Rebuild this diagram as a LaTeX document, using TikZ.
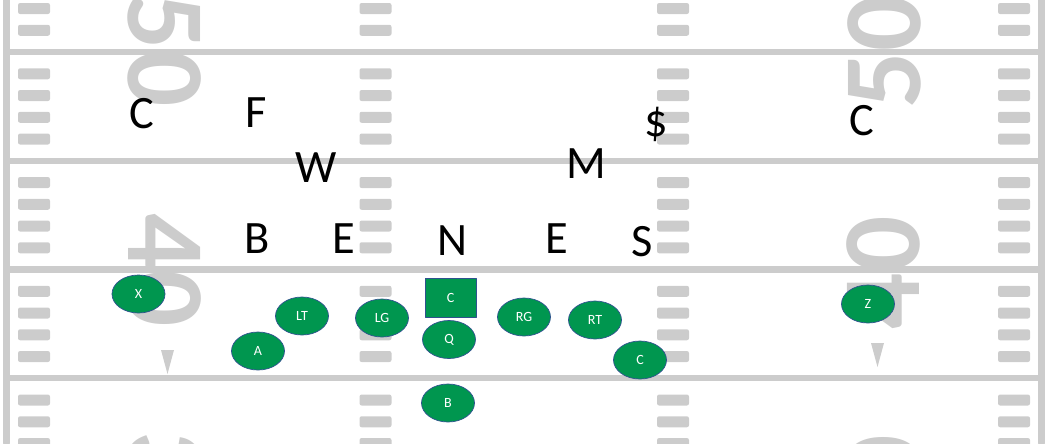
\documentclass[tikz,border=0pt]{standalone}
\usepackage{xcolor}
\usepackage{fontspec}
\setmainfont{Carlito}
\usepackage{tikz}
\usetikzlibrary{shapes.geometric}
\definecolor{qqzwuf}{rgb}{0.,0.5882352941176471,0.30980392156862746}
\definecolor{cccccc}{rgb}{0.8,0.8,0.8}
\definecolor{sfvsyf}{rgb}{0.1843137254901961,0.3215686274509804,0.5607843137254902}
\tikzstyle{fieldline}=[line width=4.6pt,color=cccccc]
\tikzstyle{hashmark}=[fill=cccccc,rounded corners=1.5pt]
\tikzstyle{yardnum}=[text=cccccc,inner sep=0pt,font=\fontsize{79}{79}\selectfont\bfseries]
\tikzstyle{defender}=[anchor=base,inner sep=0pt,font=\fontsize{33}{33}\selectfont]
\tikzstyle{player}=[ellipse,draw=sfvsyf,line width=0.5pt,fill=qqzwuf,text=white,inner sep=0pt,minimum width=1.325cm,minimum height=0.95cm,font=\fontsize{10}{10}\selectfont]
\tikzstyle{snapbox}=[rectangle,draw=sfvsyf,line width=0.5pt,fill=qqzwuf,text=white,inner sep=0pt,minimum width=1.275cm,minimum height=0.975cm,font=\fontsize{10}{10}\selectfont]

\begin{document}
\begin{tikzpicture}[line cap=round,line join=round,x=0.025cm,y=-0.025cm]
\useasboundingbox (0,0) rectangle (1048,443);
\clip (0,0) rectangle (1048,443);
\foreach \y in {52,160.75,269.5,378.25} \draw [fieldline] (6.5,\y)-- (1041.5,\y);
\draw [fieldline] (6.5,0)-- (6.5,443);
\draw [fieldline] (1041.5,0)-- (1041.5,443);
\foreach \x in {34,375.5,673,1014}
  \foreach \k in {-2,-1,1,2,3,4,6,7,8,9,11,12,13,14,16,17,18}
    \fill [hashmark] ({\x-16},{52+21.75*\k-5.5}) rectangle ++(32,11);
\node [yardnum,rotate=-90] (num50l) at (165,50) {50};
\node [yardnum,rotate=-90] (num40l) at (165,270) {40};
\node [yardnum,rotate=-90] (num30l) at (165,488) {30};
\node [yardnum,rotate=90] (num50r) at (884,52) {50};
\node [yardnum,rotate=90] (num40r) at (883,273) {40};
\node [yardnum,rotate=90] (num30r) at (883,492) {30};
\fill [cccccc] (161,350) -- (174,350) -- (167.5,374) -- cycle;
\fill [cccccc] (871,343) -- (884,343) -- (877.5,367) -- cycle;
\node [defender] (cbl) at (142,128) {C};
\node [defender] (fs) at (256,127) {F};
\node [defender] (wl) at (316,182) {W};
\node [defender] (ml) at (586,178) {M};
\node [defender] (ss) at (656,136) {\$};
\node [defender] (cbr) at (862,135) {C};
\node [defender] (bk) at (257,253) {B};
\node [defender] (el) at (344,253) {E};
\node [defender] (nt) at (452,255) {N};
\node [defender] (er) at (557,253) {E};
\node [defender] (sl) at (642,256) {S};
\node [player] (x) at (138.5,294) {X};
\node [player] (lt) at (302,316) {LT};
\node [player] (a) at (258,351) {A};
\node [player] (lg) at (382,318) {LG};
\node [snapbox] (c) at (450.5,297.5) {C};
\node [player] (q) at (449,339.5) {Q};
\node [player] (rg) at (524,317) {RG};
\node [player] (rt) at (595,320) {RT};
\node [player] (te) at (640,360) {C};
\node [player] (b) at (448,403) {B};
\node [player] (z) at (868,304) {Z};
\end{tikzpicture}
\end{document}
